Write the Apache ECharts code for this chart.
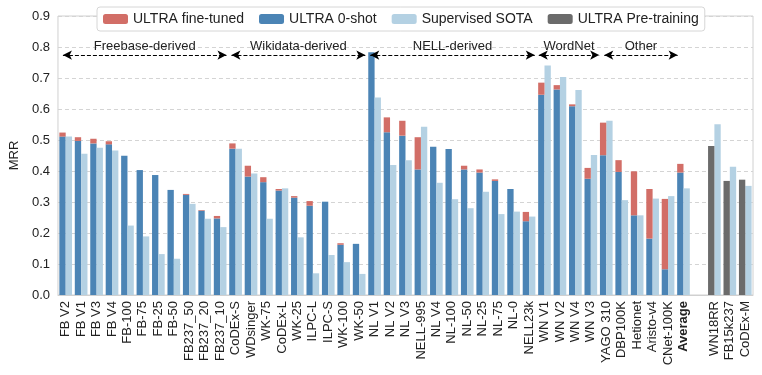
<!DOCTYPE html>
<html>
<head>
<meta charset="utf-8">
<script src="https://cdn.jsdelivr.net/npm/echarts@6/dist/echarts.min.js"></script>
<style>
  html, body { margin: 0; padding: 0; background: #fff; }
  #main { width: 762px; height: 375px; }
</style>
</head>
<body>
<div id="main"></div>
<script>
// datasets (one empty slot before the pre-training graphs)
const categories = [
  'FB V2', 'FB V1', 'FB V3', 'FB V4', 'FB-100', 'FB-75', 'FB-25', 'FB-50', 'FB237_50', 'FB237_20', 'FB237_10',
  'CoDEx-S', 'WDsinger', 'WK-75', 'CoDEx-L', 'WK-25', 'ILPC-L', 'ILPC-S', 'WK-100', 'WK-50',
  'NL V1', 'NL V2', 'NL V3', 'NELL-995', 'NL V4', 'NL-100', 'NL-50', 'NL-25', 'NL-75', 'NL-0', 'NELL23k',
  'WN V1', 'WN V2', 'WN V4', 'WN V3',
  'YAGO 310', 'DBP100K', 'Hetionet', 'Aristo-v4', 'CNet-100K', 'Average',
  '', 'WN18RR', 'FB15k237', 'CoDEx-M'
];

const zeroShot = [
  0.511, 0.497, 0.489, 0.486, 0.449, 0.403, 0.387, 0.339, 0.323, 0.272, 0.247,
  0.472, 0.382, 0.364, 0.337, 0.314, 0.288, 0.301, 0.162, 0.165,
  0.783, 0.525, 0.514, 0.405, 0.478, 0.471, 0.405, 0.395, 0.368, 0.342, 0.238,
  0.646, 0.663, 0.609, 0.375,
  0.451, 0.397, 0.257, 0.182, 0.083, 0.395,
  null, null, null, null
];

// total height after fine-tuning (null = no gain shown)
const fineTuned = [
  0.524, 0.509, 0.504, 0.496, null, null, null, null, 0.326, 0.274, 0.255,
  0.489, 0.417, 0.380, 0.342, 0.319, 0.303, null, 0.167, null,
  null, 0.573, 0.562, 0.509, null, null, 0.417, 0.405, 0.373, null, 0.268,
  0.685, 0.677, 0.615, 0.410,
  0.556, 0.435, 0.399, 0.342, 0.310, 0.423,
  null, null, null, null
];

const supervised = [
  0.511, 0.456, 0.475, 0.466, 0.224, 0.189, 0.132, 0.117, 0.294, 0.246, 0.219,
  0.472, 0.392, 0.246, 0.344, 0.186, 0.070, 0.129, 0.106, 0.068,
  0.637, 0.419, 0.435, 0.543, 0.362, 0.309, 0.280, 0.333, 0.261, 0.269, 0.253,
  0.740, 0.703, 0.661, 0.452,
  0.562, 0.306, 0.257, 0.311, 0.319, 0.344,
  null, 0.551, 0.414, 0.352
];

const preTraining = [
  null, null, null, null, null, null, null, null, null, null, null,
  null, null, null, null, null, null, null, null, null,
  null, null, null, null, null, null, null, null, null, null, null,
  null, null, null, null,
  null, null, null, null, null, null,
  null, 0.481, 0.368, 0.372
];

// group arrows, in category-index units
const groupNames = ['Freebase-derived', 'Wikidata-derived', 'NELL-derived', 'WordNet', 'Other'];
const groupStart = [-0.18, 10.73, 19.72, 30.63, 34.87];
const groupEnd = [10.41, 19.40, 30.37, 34.54, 39.62];
const arrowY = 0.774;

const fineDelta = fineTuned.map((v, i) => (v == null ? null : +(v - zeroShot[i]).toFixed(3)));

const C_RED = '#d26e67';
const C_BLUE = '#4b84b5';
const C_LIGHT = '#b4d1e3';
const C_GREY = '#6b6b6b';

const chart = echarts.init(document.getElementById('main'));

const option = {
  animation: false,
  textStyle: { fontFamily: 'Liberation Sans, Arial, sans-serif' },
  grid: { left: 52, right: 9, top: 16, bottom: 80, show: true, borderColor: '#d0d0d0', borderWidth: 1 },
  legend: {
    data: ['ULTRA fine-tuned', 'ULTRA 0-shot', 'Supervised SOTA', 'ULTRA Pre-training'],
    left: 97,
    top: 7,
    itemWidth: 25,
    itemHeight: 10,
    itemGap: 15,
    padding: [5, 6, 5, 6],
    borderColor: '#d6d6d6',
    borderWidth: 1,
    borderRadius: 3,
    backgroundColor: '#fff',
    textStyle: { fontSize: 14, color: '#222' }
  },
  xAxis: [
    {
      type: 'category',
      data: categories,
      axisTick: { show: false },
      axisLine: { lineStyle: { color: '#d0d0d0' } },
      axisLabel: {
        interval: 0,
        rotate: 90,
        fontSize: 13,
        color: '#222',
        margin: 6,
        formatter: v => (v === 'Average' ? '{b|' + v + '}' : v),
        rich: { b: { fontWeight: 'bold', fontSize: 13, color: '#222' } }
      }
    },
    { type: 'value', min: -0.5, max: 44.5, show: false }
  ],
  yAxis: {
    type: 'value',
    min: 0,
    max: 0.9,
    interval: 0.1,
    name: 'MRR',
    nameLocation: 'middle',
    nameGap: 32,
    nameTextStyle: { fontSize: 13, color: '#222' },
    axisLabel: { fontSize: 13, color: '#222', formatter: v => v.toFixed(1) },
    axisLine: { show: false },
    axisTick: { show: false },
    splitLine: { lineStyle: { color: '#d4d4d4', type: [4, 3] } }
  },
  series: [
    {
      name: 'ULTRA 0-shot',
      type: 'bar',
      stack: 'ultra',
      data: zeroShot,
      barGap: '0%',
      barCategoryGap: '18%',
      itemStyle: { color: C_BLUE }
    },
    {
      name: 'Supervised SOTA',
      type: 'bar',
      data: supervised,
      itemStyle: { color: C_LIGHT }
    },
    {
      name: 'ULTRA fine-tuned',
      type: 'bar',
      stack: 'ultra',
      data: fineDelta,
      itemStyle: { color: C_RED }
    },
    {
      name: 'ULTRA Pre-training',
      type: 'bar',
      stack: 'ultra',
      data: preTraining,
      itemStyle: { color: C_GREY }
    },
    {
      name: 'groups',
      type: 'line',
      xAxisIndex: 1,
      data: [],
      silent: true,
      markLine: {
        silent: true,
        symbol: ['arrow', 'arrow'],
        symbolSize: [7, 9],
        lineStyle: { color: '#000', type: [4, 2], width: 1.2 },
        label: { show: true, position: 'middle', distance: 2, fontSize: 13, color: '#222' },
        data: groupNames.map((g, i) => [
          { coord: [groupStart[i], arrowY], name: g },
          { coord: [groupEnd[i], arrowY] }
        ])
      }
    }
  ]
};

chart.setOption(option);
</script>
</body>
</html>
